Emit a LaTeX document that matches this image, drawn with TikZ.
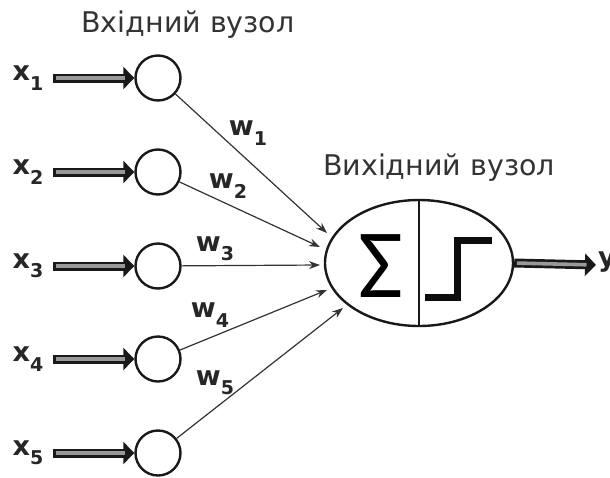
\documentclass[tikz,border=0pt]{standalone}
\usepackage{fontspec}
\setmainfont{DejaVu Sans}
\newfontfamily\lblfont{DejaVu Sans}[BoldFont={DejaVu Sans Bold}]
\newfontfamily\sigmafont{Carlito}
\usetikzlibrary{arrows.meta, shapes.geometric}
\newcommand\idx[2]{#1\raisebox{-0.35em}{\fontsize{19}{19}\selectfont #2}}
\tikzset{
  header/.style={text=black!80, font=\fontsize{28.5}{32}\selectfont, inner sep=0pt},
  varlabel/.style={font=\lblfont\bfseries\fontsize{27}{29}\selectfont, text=black!85, inner sep=0pt},
  innode/.style={circle, draw=black!90, line width=2.4pt, minimum size=45pt, inner sep=0pt},
  sumnode/.style={ellipse, draw=black!90, line width=2.4pt, minimum width=188pt, minimum height=126pt, inner sep=0pt},
  % hollow block arrow: thick dark stroke with a grey core, big head
  feed/.style={draw=black!90, line width=9pt,
    -{Triangle[length=11pt, width=22pt]},
    postaction={draw=black!40, line width=3.6pt, shorten >=9.5pt, shorten <=2.7pt, -}},
  weight/.style={draw=black!80, line width=1.2pt, -{Stealth[length=11pt, width=8pt]}},
}
\begin{document}
\begin{tikzpicture}[x=1pt, y=-1pt]
\useasboundingbox (0,0) rectangle (610,477);
% headers
\node[header] (hin) at (188,25) {Вхідний вузол};
\node[header] (hout) at (439,168) {Вихідний вузол};
% input nodes
\foreach \i/\yy in {1/78, 2/172, 3/266, 4/359, 5/453} {
  \node[innode] (c\i) at (158,\yy) {};
  \coordinate (s\i) at (53,\yy);
  \node[varlabel] (x\i) at (28,\yy) {\idx{x}{\i}};
  \draw[feed] (s\i) -- (c\i.west);
}
% output node
\node[sumnode] (e) at (419,263) {};
\draw[line width=1.4pt, black!90] (e.north) -- (e.south);
\node[inner sep=0pt, font=\sigmafont\fontsize{98}{98}\selectfont] (sig) at (381,266) {Σ};
\draw[line width=7pt, black!95, line join=miter] (425,297) -- (457,297) -- (457,240) -- (492,240);
% weighted connections
\coordinate (t1) at (327,233);
\coordinate (t2) at (320,247);
\coordinate (t3) at (320,265);
\coordinate (t4) at (327,290);
\coordinate (t5) at (343,308);
\foreach \i in {1,...,5} { \draw[weight] (c\i) -- (t\i); }
\node[varlabel] (w1) at (248,133) {\idx{w}{1}};
\node[varlabel] (w2) at (228,186) {\idx{w}{2}};
\node[varlabel] (w3) at (215,249) {\idx{w}{3}};
\node[varlabel] (w4) at (210,315) {\idx{w}{4}};
\node[varlabel] (w5) at (215,383) {\idx{w}{5}};
% output
\coordinate (yo) at (596,265);
\draw[feed] (e.east) -- (yo);
\node[varlabel, anchor=west] (ylab) at (598,262) {y};
\end{tikzpicture}
\end{document}
